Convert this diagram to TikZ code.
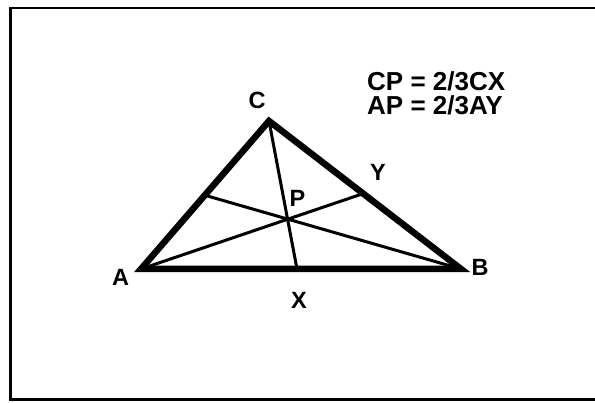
\documentclass[tikz,border=0pt]{standalone}
\usepackage{fontspec}
\setmainfont{Liberation Sans}
\begin{document}
\begin{tikzpicture}[x=1pt,y=-1pt,
  side/.style={line width=6.5pt,line join=miter,line cap=butt},
  median/.style={line width=3pt},
  frameline/.style={line width=2.8pt},
  vlabel/.style={font=\bfseries\fontsize{23.5}{26}\selectfont,inner sep=0pt},
  formula/.style={font=\bfseries\fontsize{26}{30}\selectfont,inner sep=0pt,anchor=west}]
\useasboundingbox (0,0) rectangle (595,403);
\fill[white] (0,0) rectangle (595,403);
% frame (open at right)
\coordinate (f1) at (600,8);
\coordinate (f2) at (10.5,8);
\coordinate (f3) at (10.5,399.5);
\coordinate (f4) at (600,399.5);
\draw[frameline] (f1) -- (f2) -- (f3) -- (f4);
% vertices
\coordinate (A) at (141,269);
\coordinate (B) at (461,269);
\coordinate (C) at (269,121);
\coordinate (X) at (297,269);
\coordinate (Y) at (362,194);
\coordinate (Z) at (204,195);
% medians
\draw[median] (C) -- (X);
\draw[median] (A) -- (Y);
\draw[median] (B) -- (Z);
% triangle
\draw[side] (A) -- (B) -- (C) -- cycle;
% labels
\node[vlabel] (lA) at (120.5,277) {A};
\node[vlabel] (lB) at (480,267) {B};
\node[vlabel] (lC) at (257,100) {C};
\node[vlabel] (lX) at (299,300) {X};
\node[vlabel] (lY) at (378,172) {Y};
\node[vlabel] (lP) at (297.5,198) {P};
\node[formula] (f1t) at (367,81) {CP = 2/3CX};
\node[formula] (f2t) at (367,105) {AP = 2/3AY};
\end{tikzpicture}
\end{document}
